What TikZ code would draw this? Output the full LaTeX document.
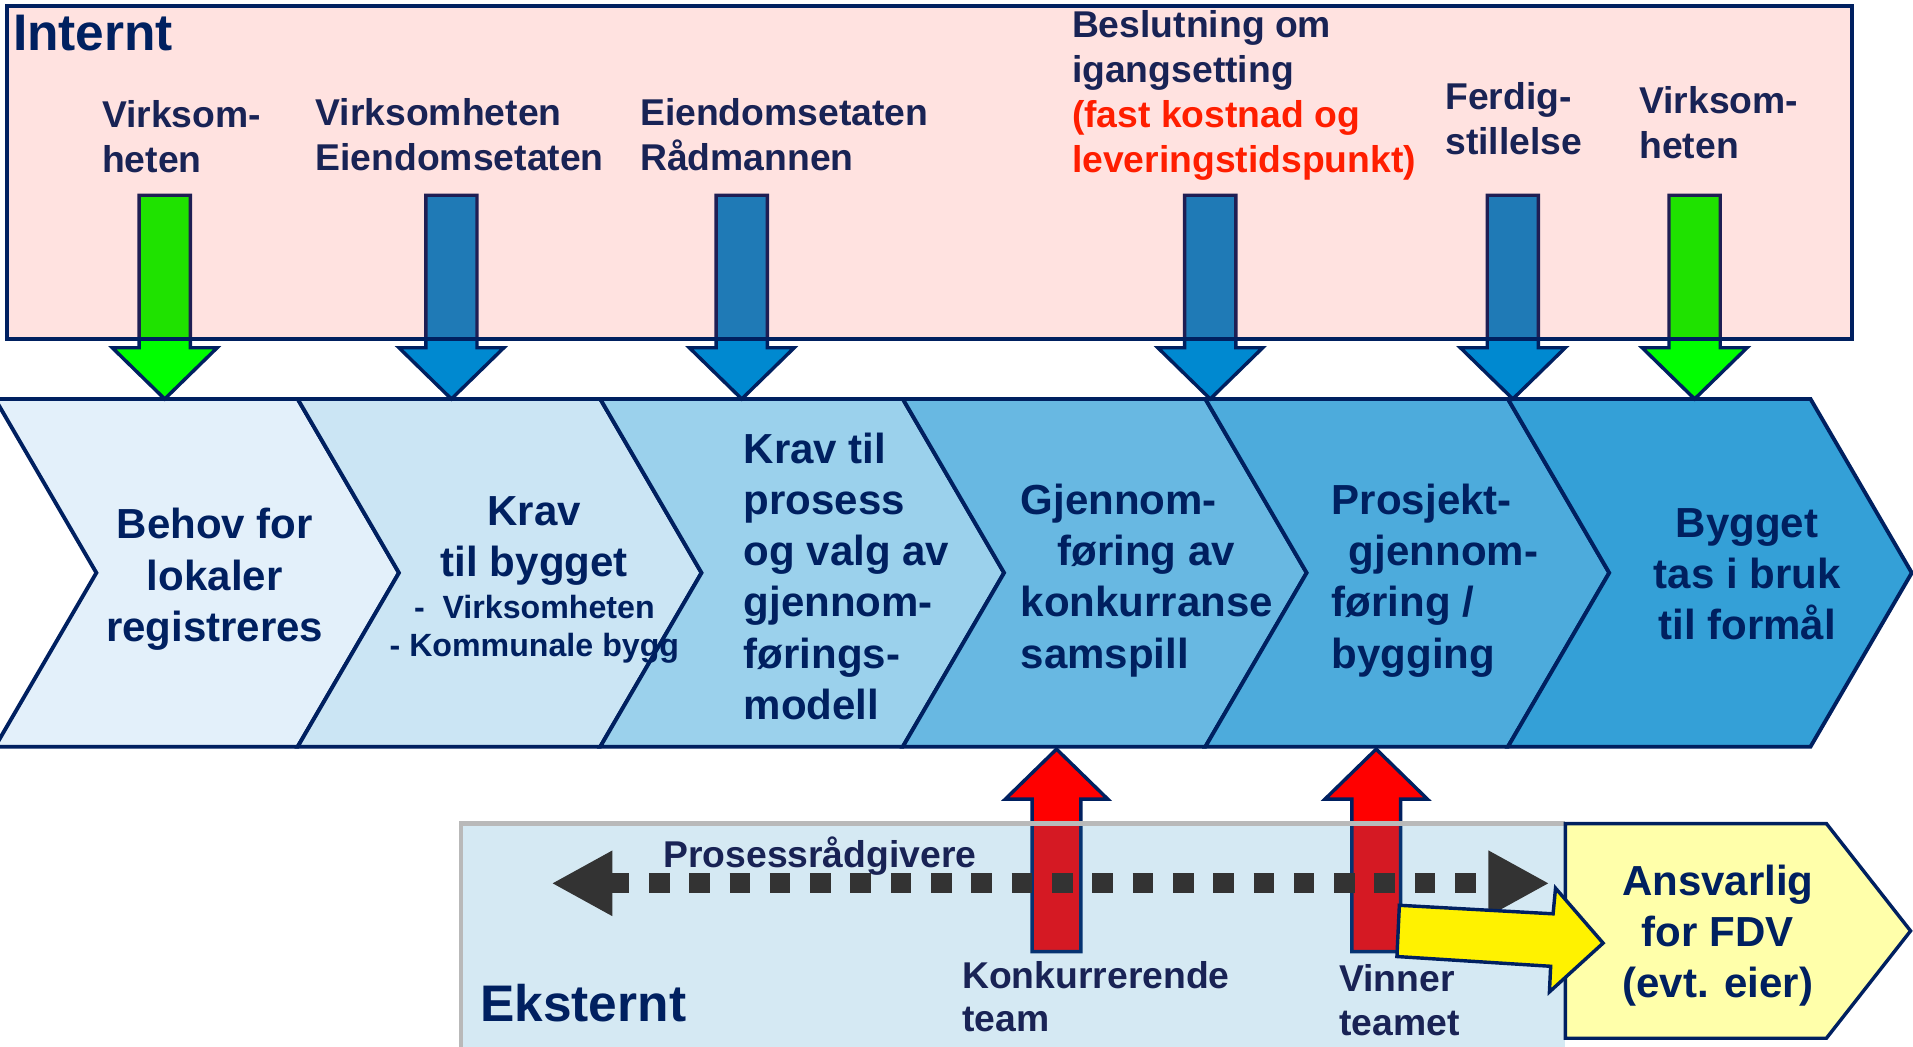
\documentclass[tikz,border=0pt]{standalone}
\usepackage{fontspec}
\setmainfont{Liberation Sans}
\usepackage{tikz}
\usetikzlibrary{arrows.meta}
\definecolor{navy}{RGB}{0,32,96}
\definecolor{txtnavy}{RGB}{25,35,85}
\definecolor{arrblue}{RGB}{0,137,208}
\definecolor{arrgreen}{RGB}{0,255,0}
\definecolor{arrred}{RGB}{255,0,0}
\definecolor{pinkish}{RGB}{255,20,0}
\definecolor{extblue}{RGB}{34,137,190}
\definecolor{fdvyellow}{RGB}{255,255,170}
\definecolor{dotgray}{RGB}{51,51,51}
\definecolor{redtxt}{RGB}{255,30,0}
\definecolor{chevA}{RGB}{227,240,250}
\definecolor{chevB}{RGB}{203,229,244}
\definecolor{chevC}{RGB}{155,209,236}
\definecolor{chevD}{RGB}{104,184,226}
\definecolor{chevE}{RGB}{77,171,220}
\definecolor{chevF}{RGB}{52,160,215}
\tikzstyle{chevron}=[draw=navy, line width=0.9pt]
\tikzstyle{blockarrow}=[draw=navy, line width=0.8pt]
\tikzstyle{lbl}=[inner sep=0pt, anchor=north west, align=left, text=txtnavy, font=\fontsize{8.7}{10.5}\selectfont\bfseries]
\tikzstyle{steptext}=[inner sep=0pt, anchor=north, align=center, text=navy, font=\fontsize{9.8}{11.95}\selectfont\bfseries]
\tikzstyle{bigtitle}=[inner sep=0pt, anchor=north west, text=navy, font=\fontsize{12}{14}\selectfont\bfseries]
\tikzstyle{dotarrow}=[draw=dotgray, line width=4.6pt, dash pattern=on 4.8pt off 4.6pt, {Triangle[length=5mm 0 0,width=5mm 0 0]}-{Triangle[length=5mm 0 0,width=5mm 0 0]}]

\begin{document}
\begin{tikzpicture}[x=0.1mm,y=-0.1mm]
\useasboundingbox (0,0) rectangle (1568,858);

\draw[chevron, fill=chevA] (-4,327) -- (244,327) -- (327,469.5) -- (244,612) -- (-4,612) -- (79,469.5) -- cycle;
\draw[chevron, fill=chevB] (244,327) -- (492,327) -- (575,469.5) -- (492,612) -- (244,612) -- (327,469.5) -- cycle;
\draw[chevron, fill=chevC] (492,327) -- (740,327) -- (823,469.5) -- (740,612) -- (492,612) -- (575,469.5) -- cycle;
\draw[chevron, fill=chevD] (740,327) -- (988,327) -- (1071,469.5) -- (988,612) -- (740,612) -- (823,469.5) -- cycle;
\draw[chevron, fill=chevE] (988,327) -- (1236,327) -- (1319,469.5) -- (1236,612) -- (988,612) -- (1071,469.5) -- cycle;
\draw[chevron, fill=chevF] (1236,327) -- (1484,327) -- (1567,469.5) -- (1484,612) -- (1236,612) -- (1319,469.5) -- cycle;

\draw[blockarrow, fill=arrgreen] (114,160) -- (156,160) -- (156,285) -- (178,285) -- (135,327) -- (92,285) -- (114,285) -- cycle;
\draw[blockarrow, fill=arrblue] (349,160) -- (391,160) -- (391,285) -- (413,285) -- (370,327) -- (327,285) -- (349,285) -- cycle;
\draw[blockarrow, fill=arrblue] (587,160) -- (629,160) -- (629,285) -- (651,285) -- (608,327) -- (565,285) -- (587,285) -- cycle;
\draw[blockarrow, fill=arrblue] (971,160) -- (1013,160) -- (1013,285) -- (1035,285) -- (992,327) -- (949,285) -- (971,285) -- cycle;
\draw[blockarrow, fill=arrblue] (1219,160) -- (1261,160) -- (1261,285) -- (1283,285) -- (1240,327) -- (1197,285) -- (1219,285) -- cycle;
\draw[blockarrow, fill=arrgreen] (1368,160) -- (1410,160) -- (1410,285) -- (1432,285) -- (1389,327) -- (1346,285) -- (1368,285) -- cycle;

\draw[draw=navy, line width=0.9pt, fill=pinkish, fill opacity=0.12] (6,5) rectangle (1518,278);

\draw[blockarrow, fill=arrred] (846,780) -- (886,780) -- (886,655) -- (908,655) -- (866,614) -- (824,655) -- (846,655) -- cycle;
\draw[blockarrow, fill=arrred] (1108,780) -- (1148,780) -- (1148,655) -- (1170,655) -- (1128,614) -- (1086,655) -- (1108,655) -- cycle;

\fill[extblue, fill opacity=0.19] (378,675) rectangle (1283,858);
\draw[gray!55, line width=1pt] (378,858) -- (378,675) -- (1283,675);

\coordinate (dl) at (452,724);
\coordinate (dr) at (1270,724);
\draw[dotarrow] (dl) -- (dr);

\draw[blockarrow, fill=fdvyellow] (1283,675) -- (1497,675) -- (1566,763) -- (1497,851) -- (1283,851) -- cycle;
\draw[blockarrow, fill=yellow] (1147,742) -- (1273,749) -- (1275,728) -- (1314,773) -- (1270,813) -- (1271,792) -- (1145,784) -- cycle;

\node[bigtitle] (intern) at (10,12) {Internt};
\node[lbl] (virk1) at (83,82) {Virksom-\\heten};
\node[lbl] (virkeien) at (258,80) {Virksomheten\\Eiendomsetaten};
\node[lbl] (eienrad) at (524,80) {Eiendomsetaten\\Rådmannen};
\node[lbl] (beslut) at (878,8) {Beslutning om\\igangsetting\\\textcolor{redtxt}{(fast kostnad og}\\\textcolor{redtxt}{leveringstidspunkt)}};
\node[lbl] (ferdig) at (1184,67) {Ferdig-\\stillelse};
\node[lbl] (virk2) at (1343,70) {Virksom-\\heten};

\node[steptext] (behov) at (176,416) {Behov for\\lokaler\\registreres};
\node[steptext] (krav) at (438,406) {Krav\\til bygget};
\node[steptext, font=\fontsize{7.5}{8.8}\selectfont\bfseries] (kravsub) at (438,487) {-\ \ Virksomheten\\- Kommunale bygg};
\node[steptext, anchor=north west, align=left] (prosess) at (609,354) {Krav til\\prosess\\og valg av\\gjennom-\\førings-\\modell};
\node[steptext, anchor=north west, align=left] (gjennom) at (836,396) {Gjennom-\\\hspace*{3mm}føring av\\konkurranse\\samspill};
\node[steptext, anchor=north west, align=left] (prosjekt) at (1091,396) {Prosjekt-\\\hspace*{1.4mm}gjennom-\\føring /\\bygging};
\node[steptext] (bygget) at (1432,416) {Bygget\\tas i bruk\\til formål};

\node[steptext] (fdv) at (1408,708) {Ansvarlig\\for FDV\\(evt. eier)};
\node[lbl] (prosradg) at (543,685) {Prosessrådgivere};
\node[lbl, font=\fontsize{8.7}{10.2}\selectfont\bfseries] (konk) at (788,787) {Konkurrerende\\team};
\node[lbl, font=\fontsize{8.7}{10.2}\selectfont\bfseries] (vinner) at (1097,790) {Vinner\\teamet};
\node[bigtitle] (ekst) at (393,806) {Eksternt};
\end{tikzpicture}
\end{document}
